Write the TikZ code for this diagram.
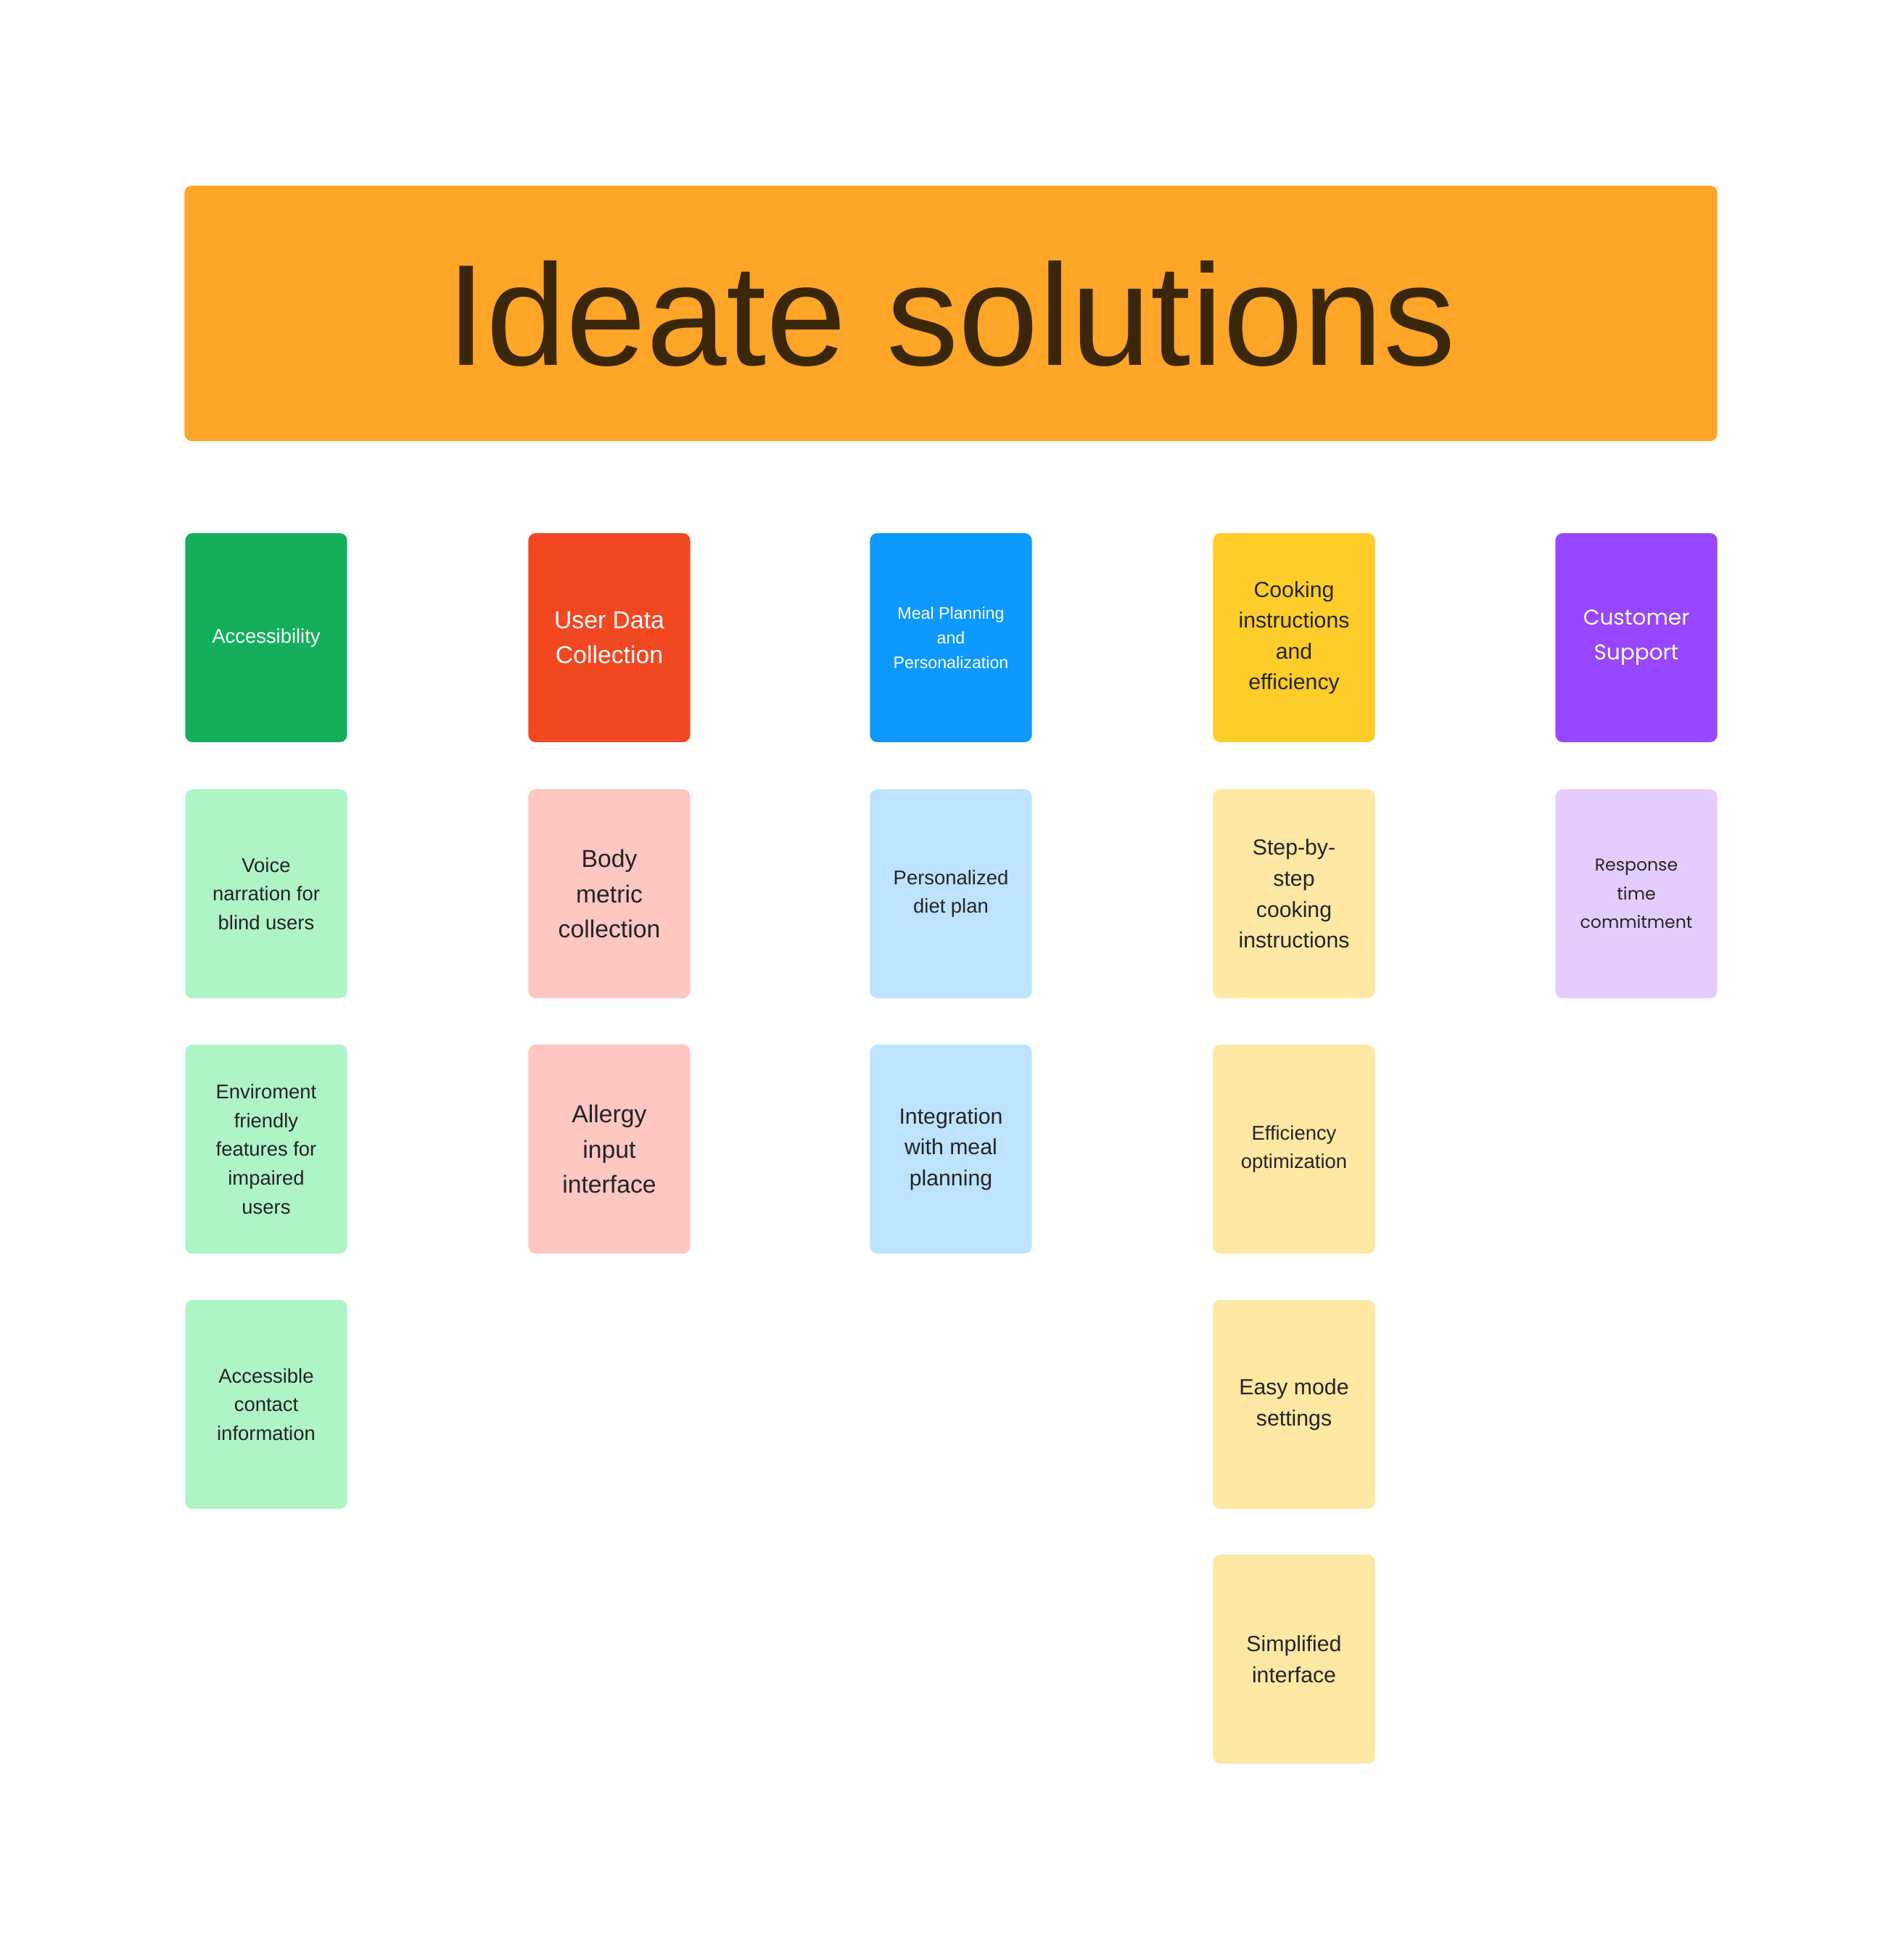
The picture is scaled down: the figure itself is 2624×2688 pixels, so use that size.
\documentclass[tikz,border=0pt]{standalone}
\usepackage{fontspec}
\setmainfont{Liberation Sans}
\newfontfamily\supportfont{Poppins}

\definecolor{titleorange}{HTML}{FFA629}
\definecolor{titleink}{HTML}{3A2609}
\definecolor{noteink}{HTML}{242424}
\definecolor{accgreen}{HTML}{14AE5C}
\definecolor{accgreenlt}{HTML}{AFF4C6}
\definecolor{udcred}{HTML}{F24822}
\definecolor{udcredlt}{HTML}{FFC7C2}
\definecolor{mealblue}{HTML}{0D99FF}
\definecolor{mealbluelt}{HTML}{BDE3FF}
\definecolor{cookyellow}{HTML}{FFCD29}
\definecolor{cookyellowlt}{HTML}{FFE8A3}
\definecolor{cspurple}{HTML}{9747FF}
\definecolor{cspurplelt}{HTML}{E4CCFF}

% text sizes of the sticky notes
\newcommand{\txtS}{\fontsize{6.6}{9.7}\selectfont}
\newcommand{\txtM}{\fontsize{7.8}{11.3}\selectfont}
\newcommand{\txtL}{\fontsize{8.6}{12.1}\selectfont}
\newcommand{\txtXL}{\fontsize{9.6}{13.7}\selectfont}

\tikzset{
  titlebox/.style={fill=titleorange, rounded corners=0.1cm, minimum width=21.12cm,
    minimum height=3.52cm, text=titleink, font=\fontsize{56.5}{60}\selectfont},
  card/.style={rounded corners=0.1cm, minimum width=2.23cm, minimum height=2.88cm,
    align=center, inner sep=0pt},
  headcard/.style={card, text=white},
  notecard/.style={card, text=noteink},
}

\begin{document}
\begin{tikzpicture}[x=0.01cm,y=-0.01cm]
\fill[white] (0,0) rectangle (2624,2688);
\useasboundingbox (0,0) rectangle (2624,2688);

\node[titlebox] (title) at (1311,432) {Ideate solutions};

% Accessibility
\node[headcard, fill=accgreen, font=\txtM] (acc) at (367,879) {Accessibility};
\node[notecard, fill=accgreenlt, font=\txtM] (acc1) at (367,1232) {Voice\\narration for\\blind users};
\node[notecard, fill=accgreenlt, font=\txtM] (acc2) at (367,1584) {Enviroment\\friendly\\features for\\impaired\\users};
\node[notecard, fill=accgreenlt, font=\txtM] (acc3) at (367,1936) {Accessible\\contact\\information};

% User data collection
\node[headcard, fill=udcred, font=\txtXL] (udc) at (840,879) {User Data\\Collection};
\node[notecard, fill=udcredlt, font=\txtXL] (udc1) at (840,1232) {Body\\metric\\collection};
\node[notecard, fill=udcredlt, font=\txtXL] (udc2) at (840,1584) {Allergy\\input\\interface};

% Meal planning
\node[headcard, fill=mealblue, font=\txtS] (meal) at (1311,879) {Meal Planning\\and\\Personalization};
\node[notecard, fill=mealbluelt, font=\txtM] (meal1) at (1311,1232) {Personalized\\diet plan};
\node[notecard, fill=mealbluelt, font=\txtL] (meal2) at (1311,1584) {Integration\\with meal\\planning};

% Cooking
\node[card, fill=cookyellow, text=noteink, font=\txtL] (cook) at (1784,879) {Cooking\\instructions\\and\\efficiency};
\node[notecard, fill=cookyellowlt, font=\txtL] (cook1) at (1784,1232) {Step-by-\\step\\cooking\\instructions};
\node[notecard, fill=cookyellowlt, font=\txtM] (cook2) at (1784,1584) {Efficiency\\optimization};
\node[notecard, fill=cookyellowlt, font=\txtL] (cook3) at (1784,1936) {Easy mode\\settings};
\node[notecard, fill=cookyellowlt, font=\txtL] (cook4) at (1784,2287) {Simplified\\interface};

% Customer support
\node[headcard, fill=cspurple, font=\supportfont\fontsize{8.4}{13.7}\selectfont] (cs) at (2256,879) {Customer\\Support};
\node[notecard, fill=cspurplelt, font=\supportfont\fontsize{6.7}{11.3}\selectfont] (cs1) at (2256,1232) {Response\\time\\commitment};
\end{tikzpicture}
\end{document}
